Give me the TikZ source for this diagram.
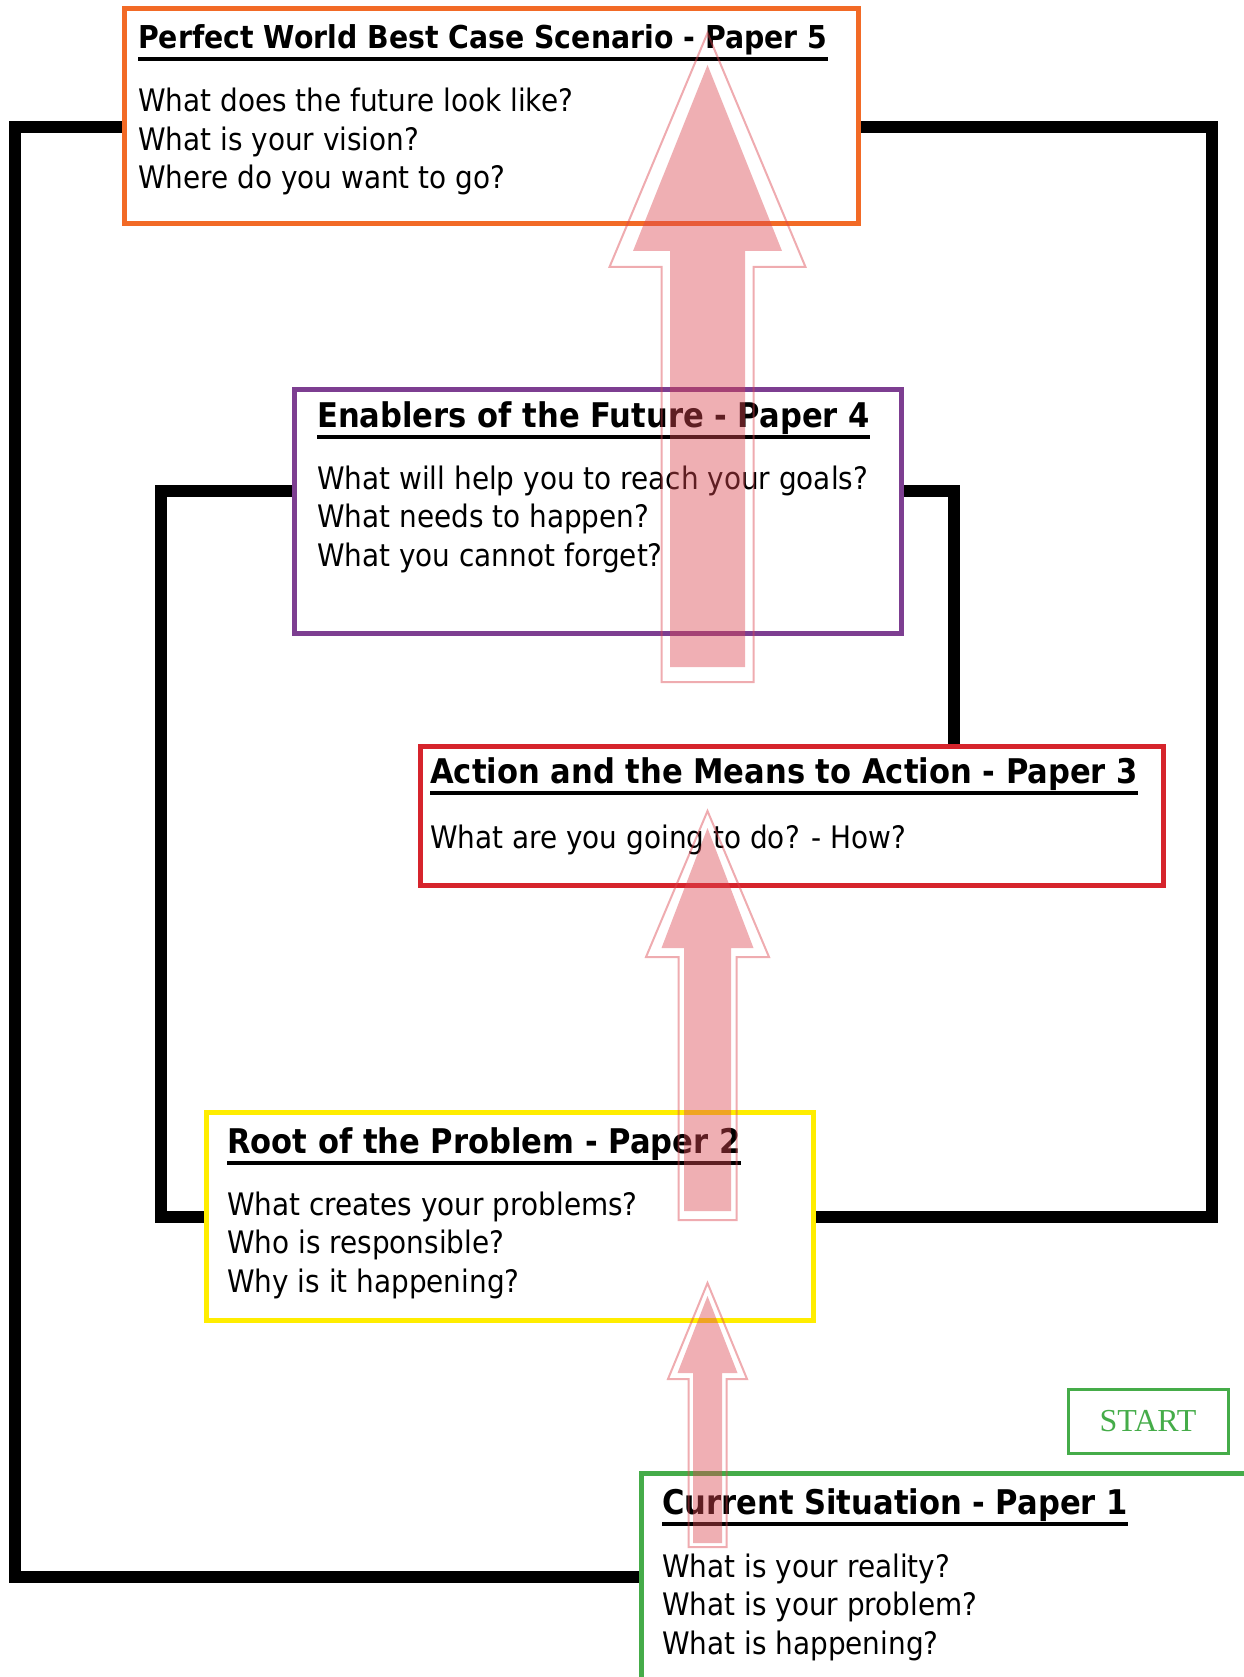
\documentclass[tikz,border=0pt]{standalone}
\usepackage{fontspec}
\newfontfamily\boxfont[FakeStretch=0.9]{DejaVu Sans}
\newfontfamily\startfont{Liberation Serif}
\usetikzlibrary{backgrounds}
\definecolor{paperorange}{RGB}{242,106,38}
\definecolor{paperpurple}{RGB}{125,62,145}
\definecolor{paperred}{RGB}{214,36,44}
\definecolor{paperyellow}{RGB}{255,237,0}
\definecolor{papergreen}{RGB}{69,172,73}
\definecolor{arrowred}{RGB}{220,70,80}
\tikzset{paperbox/.style={draw,rectangle,line width=5pt,fill=white,inner sep=0},
    papertitle/.style={anchor=base west,inner sep=0,font={\boxfont\bfseries\fontsize{34}{40}\selectfont}},
    papertext/.style={anchor=base west,inner sep=0,align=left,font={\boxfont\fontsize{31}{38.5}\selectfont}},
    underline/.style={line width=3.5pt},
    loopline/.style={line width=12.5pt},
    arrowbody/.style={fill=arrowred,fill opacity=0.43},
    arrowrim/.style={draw=arrowred,draw opacity=0.45,line width=2pt}
}
\newcommand{\blockarrow}[7]
{
% args: (style, x of centre, y of tip, y of head base, y of bottom, half width of head, half width of shaft)
    \path [#1] (#2,#3) -- ({#2+#6},#4) -- ({#2+#7},#4) -- ({#2+#7},#5)
        -- ({#2-#7},#5) -- ({#2-#7},#4) -- ({#2-#6},#4) -- cycle;
}
\newcommand{\titleline}[1]
{
% args: title node
    \draw [underline] ([yshift=-10pt]#1.base west) -- ([yshift=-10pt]#1.base east);
}
\begin{document}
\begin{tikzpicture}[x=1pt,y=-1pt]
\useasboundingbox (0,0) rectangle (1243,1677);

% the papers
\node (p5) at (491,116.5) [paperbox,draw=paperorange,minimum width=734,minimum height=215] {};
\node (p4) at (597.5,511) [paperbox,draw=paperpurple,minimum width=607,minimum height=244] {};
\node (p3) at (791.5,815.5) [paperbox,draw=paperred,minimum width=743,minimum height=139] {};
\node (p2) at (509.5,1216) [paperbox,draw=paperyellow,minimum width=607,minimum height=208] {};
\node (p1) at (991,1623) [paperbox,draw=papergreen,minimum width=700,minimum height=300] {};

\node (start) at (1148,1421) [draw=papergreen,line width=3pt,minimum width=160,minimum height=64,
    text=papergreen,font={\startfont\fontsize{32}{38}\selectfont}] {START};

% texts (body nodes sit on the baseline of their last line)
\node (t5) at (138,49) [papertitle,font={\boxfont\bfseries\fontsize{31.5}{38}\selectfont}] {Perfect World Best Case Scenario - Paper 5};
\node (b5) at (138,189) [papertext] {What does the future look like?\\What is your vision?\\Where do you want to go?};
\node (t4) at (317,427) [papertitle] {Enablers of the Future - Paper 4};
\node (b4) at (317,566) [papertext] {What will help you to reach your goals?\\What needs to happen?\\What you cannot forget?};
\node (t3) at (430,783) [papertitle] {Action and the Means to Action - Paper 3};
\node (b3) at (430,848) [papertext] {What are you going to do? - How?};
\node (t2) at (227,1153) [papertitle] {Root of the Problem - Paper 2};
\node (b2) at (227,1292) [papertext] {What creates your problems?\\Who is responsible?\\Why is it happening?};
\node (t1) at (662,1514) [papertitle] {Current Situation - Paper 1};
\node (b1) at (662,1654) [papertext] {What is your reality?\\What is your problem?\\What is happening?};

\titleline{t5}
\titleline{t4}
\titleline{t3}
\titleline{t2}
\titleline{t1}

% the loops
\coordinate (outerSW) at (15,1577);
\coordinate (outerNW) at (15,127);
\coordinate (outerNE) at (1212,127);
\coordinate (outerSE) at (1212,1217);
\coordinate (innerSW) at (161,1217);
\coordinate (innerNW) at (161,491);
\coordinate (innerNE) at (954,491);

\begin{scope}[on background layer]
\draw [loopline] (p1.west |- outerSW) -- (outerSW) -- (outerNW) -- (p5.west |- outerNW);
\draw [loopline] (p5.east |- outerNE) -- (outerNE) -- (outerSE) -- (p2.east |- outerSE);
\draw [loopline] (p2.west |- innerSW) -- (innerSW) -- (innerNW) -- (p4.west |- innerNW);
\draw [loopline] (p4.east |- innerNE) -- (innerNE) -- (p3.north -| innerNE);
\end{scope}

% arrows
\blockarrow{arrowbody}{707.5}{65}{251}{667}{74.5}{37.5}
\blockarrow{arrowrim}{707.5}{33}{267}{682}{98}{46}

\blockarrow{arrowbody}{707.5}{828}{948}{1211}{46}{23.5}
\blockarrow{arrowrim}{707.5}{811}{957}{1220}{61.5}{29}

\blockarrow{arrowbody}{707.5}{1296}{1373}{1543}{30}{14.5}
\blockarrow{arrowrim}{707.5}{1283}{1379}{1547}{39.5}{19}

\end{tikzpicture}
\end{document}
